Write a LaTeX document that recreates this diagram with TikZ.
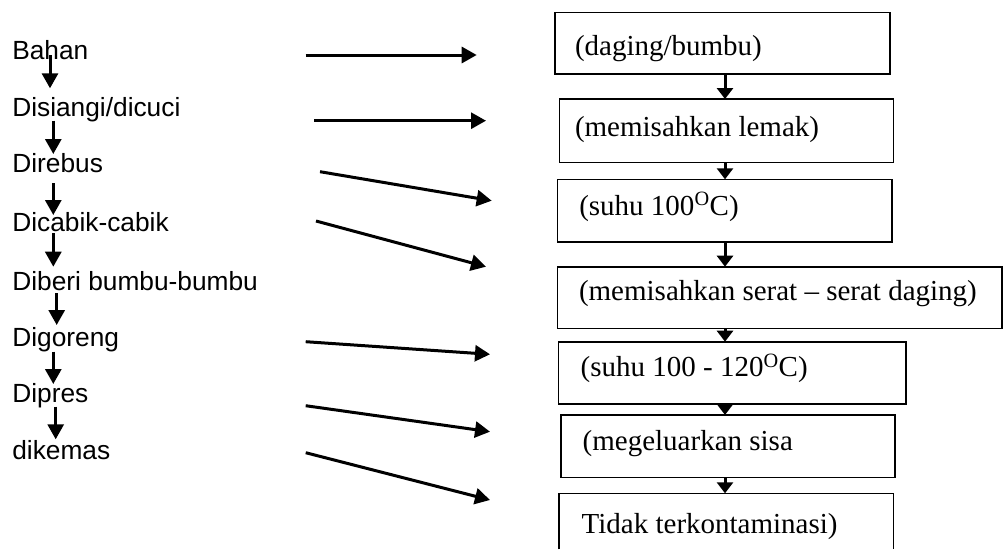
\documentclass[tikz,border=0pt]{standalone}
\usepackage{fontspec}
\setmainfont{Liberation Serif}
\newfontfamily\labfont{Liberation Sans}
\newfontfamily\boxfont{Liberation Serif}
\usetikzlibrary{arrows.meta}
\tikzset{
  lab/.style={inner sep=0pt, outer sep=0pt, anchor=base west, font=\labfont\fontsize{26.3}{30}\selectfont},
  txt/.style={inner sep=0pt, outer sep=0pt, anchor=base west, font=\boxfont\fontsize{29}{33}\selectfont},
  stepbox/.style={draw, line width=1.6pt, inner sep=0pt, outer sep=0pt, rectangle},
  arr/.style={line width=3pt, -{Triangle[length=15pt,width=16pt]}},
  sarr/.style={line width=3pt, -{Triangle[length=11pt,width=16pt]}}
}
\begin{document}
\begin{tikzpicture}[x=1pt,y=-1pt]
\useasboundingbox (0,0) rectangle (1003,549);

% left labels
\node[lab] (l1) at (12.3,59.3) {Bahan};
\node[lab] (l2) at (12.3,116) {Disiangi/dicuci};
\node[lab] (l3) at (12.3,172.7) {Direbus};
\node[lab] (l4) at (12.3,231.7) {Dicabik-cabik};
\node[lab] (l5) at (12.3,290) {Diberi bumbu-bumbu};
\node[lab] (l6) at (12.3,346) {Digoreng};
\node[lab] (l7) at (12.3,402.7) {Dipres};
\node[lab] (l8) at (12.3,459.3) {dikemas};

% left vertical arrows
\coordinate (v1a) at (50,55);   \coordinate (v1b) at (50,88.3);
\coordinate (v2a) at (53.3,120.7); \coordinate (v2b) at (53.3,154);
\coordinate (v3a) at (53.3,183.3); \coordinate (v3b) at (53.3,215);
\coordinate (v4a) at (53.3,233.3); \coordinate (v4b) at (53.3,266.7);
\coordinate (v5a) at (56.7,293.3); \coordinate (v5b) at (56.7,325);
\coordinate (v6a) at (53.3,351.7); \coordinate (v6b) at (53.3,384);
\coordinate (v7a) at (55.7,406.7); \coordinate (v7b) at (55.7,439.3);
\foreach \i in {1,...,7} {\draw[arr] (v\i a) -- (v\i b);}

% middle arrows
\coordinate (h1a) at (305.7,55);   \coordinate (h1b) at (476.7,55);
\coordinate (h2a) at (314.3,120.7); \coordinate (h2b) at (486,120.7);
\coordinate (h3a) at (320,171.7);  \coordinate (h3b) at (491.7,200.7);
\coordinate (h4a) at (316,221);    \coordinate (h4b) at (486,266.7);
\coordinate (h5a) at (305.7,341.7); \coordinate (h5b) at (490,354.3);
\coordinate (h6a) at (305.7,405.7); \coordinate (h6b) at (490,431.7);
\coordinate (h7a) at (305.7,452.7); \coordinate (h7b) at (490,500);
\foreach \i in {1,...,7} {\draw[arr] (h\i a) -- (h\i b);}

% boxes
\node[stepbox, minimum width=335pt, minimum height=61.7pt] (b1) at (722.5,43.2) {};
\node[stepbox, minimum width=334pt, minimum height=63.3pt] (b2) at (726.3,130.7) {};
\node[stepbox, minimum width=334.4pt, minimum height=62.4pt] (b3) at (724.5,210.5) {};
\node[stepbox, minimum width=444.4pt, minimum height=61.6pt] (b4) at (779.5,297.5) {};
\node[stepbox, minimum width=347.2pt, minimum height=62.3pt] (b5) at (732.1,372.85) {};
\node[stepbox, minimum width=334pt, minimum height=62.7pt] (b6) at (728,446.3) {};
\node[inner sep=0pt, outer sep=0pt, minimum width=334.3pt, minimum height=56pt] (b7) at (726.15,521.3) {};
\draw[line width=1.6pt] (b7.south west) |- (b7.north east) -- (b7.south east);

% box texts
\node[txt] (t1) at (575,55) {(daging/bumbu)};
\node[txt] (t2) at (575,136.7) {(memisahkan lemak)};
\node[txt] (t3) at (579.3,215) {(suhu 100\textsuperscript{O}C)};
\node[txt] (t4) at (579,300) {(memisahkan serat – serat daging)};
\node[txt] (t5) at (580.7,376.7) {(suhu 100 - 120\textsuperscript{O}C)};
\node[txt] (t6) at (582.7,450) {(megeluarkan sisa};
\node[txt] (t7) at (581.7,533.3) {Tidak terkontaminasi)};

% box arrows
\coordinate (ax) at (725,0);
\draw[sarr] (b1.south -| ax) -- (b2.north -| ax);
\draw[sarr] (b2.south -| ax) -- (b3.north -| ax);
\draw[sarr] (b3.south -| ax) -- (b4.north -| ax);
\draw[sarr] (b4.south -| ax) -- (b5.north -| ax);
\draw[sarr] (b5.south -| ax) -- (b6.north -| ax);
\draw[sarr] (b6.south -| ax) -- (b7.north -| ax);
\end{tikzpicture}
\end{document}
